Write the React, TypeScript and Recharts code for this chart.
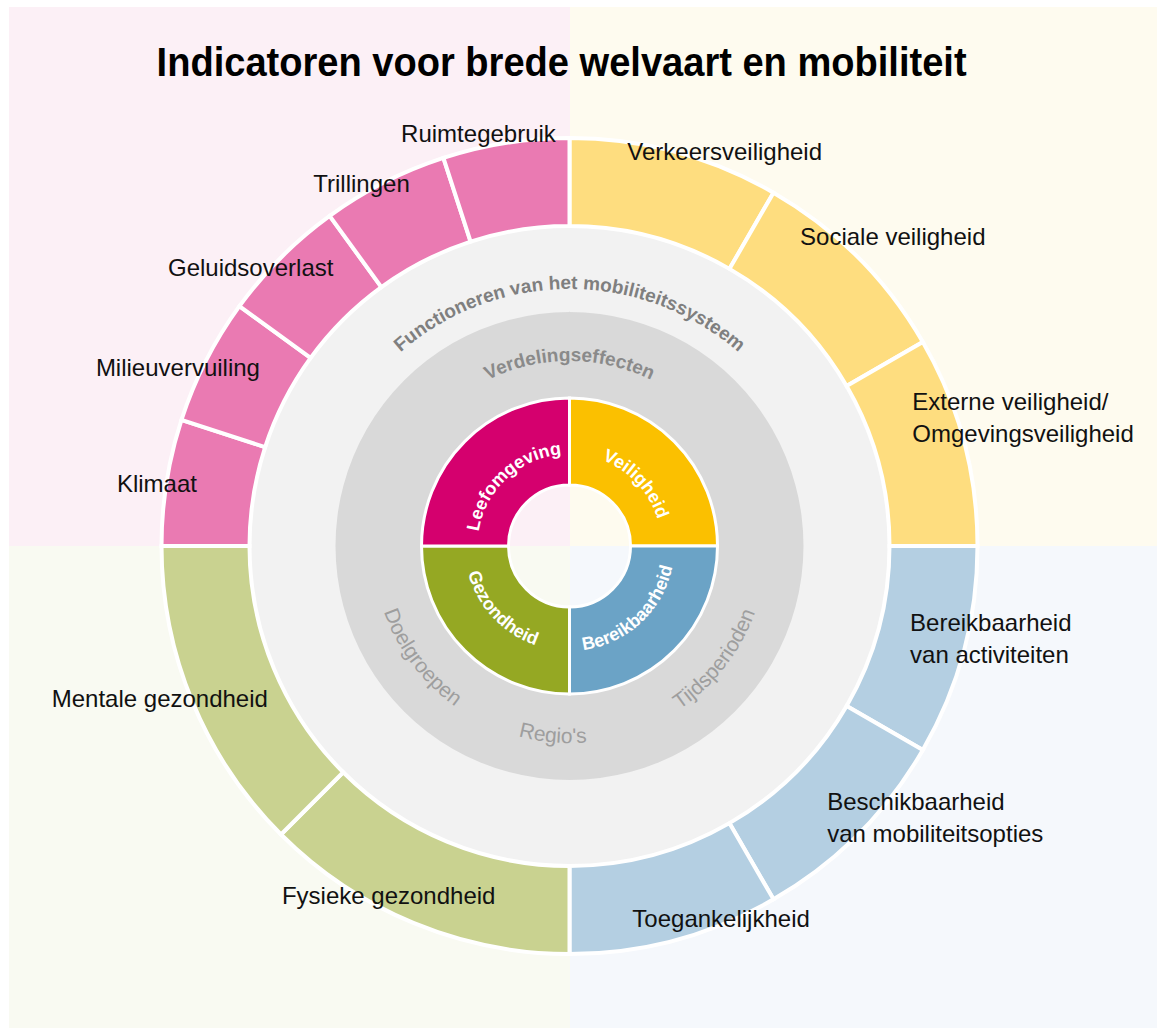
import React from "react";
import { PieChart, Pie, Cell } from "recharts";

// ---------- data ----------
const TITLE = "Indicatoren voor brede welvaart en mobiliteit";

const THEMES = ["Veiligheid", "Bereikbaarheid", "Gezondheid", "Leefomgeving"];
const THEME_VALUES = [1, 1, 1, 1];

const INDICATORS = [
  "Verkeersveiligheid",
  "Sociale veiligheid",
  "Externe veiligheid/\nOmgevingsveiligheid",
  "Bereikbaarheid\nvan activiteiten",
  "Beschikbaarheid\nvan mobiliteitsopties",
  "Toegankelijkheid",
  "Fysieke gezondheid",
  "Mentale gezondheid",
  "Klimaat",
  "Milieuvervuiling",
  "Geluidsoverlast",
  "Trillingen",
  "Ruimtegebruik",
];
const INDICATOR_SHARES = [30, 30, 30, 30, 30, 30, 45, 45, 18, 18, 18, 18, 18];
const INDICATOR_THEMES = [
  "Veiligheid", "Veiligheid", "Veiligheid",
  "Bereikbaarheid", "Bereikbaarheid", "Bereikbaarheid",
  "Gezondheid", "Gezondheid",
  "Leefomgeving", "Leefomgeving", "Leefomgeving", "Leefomgeving", "Leefomgeving",
];

const SYSTEM_RING = ["Functioneren van het mobiliteitssysteem"];
const SYSTEM_VALUES = [1];
const DISTRIBUTION_RING = ["Verdelingseffecten"];
const DISTRIBUTION_VALUES = [1];
const DISTRIBUTION_DIMENSIONS = ["Doelgroepen", "Regio's", "Tijdsperioden"];

// ---------- layout / style ----------
const W = 1157;
const H = 1029;
const CX = 569.5;
const CY = 546;
const FONT = "'Liberation Sans', Arial, sans-serif";

const THEME_COLOR: Record<string, string> = {
  Veiligheid: "#fbc000",
  Bereikbaarheid: "#6ba3c6",
  Gezondheid: "#95a823",
  Leefomgeving: "#d5006e",
};
const INDICATOR_COLOR: Record<string, string> = {
  Veiligheid: "#fedd7f",
  Bereikbaarheid: "#b4cfe2",
  Gezondheid: "#c9d290",
  Leefomgeving: "#ea7ab2",
};
const BG = { tl: "#fcf0f6", tr: "#fefbef", bl: "#f9faf2", br: "#f5f8fc" };

// polar placement of outer labels (angle in degrees, radius in px), anchor
const INDICATOR_LABEL_LAYOUT = [
  { a: 68.1, r: 416, anchor: "middle" },
  { a: 43.0, r: 442, anchor: "middle" },
  { a: 21.7, r: 369, anchor: "start" },
  { a: -14.0, r: 351, anchor: "start" },
  { a: -45.7, r: 369, anchor: "start" },
  { a: -68.3, r: 410, anchor: "middle" },
  { a: 243.2, r: 401, anchor: "middle" },
  { a: 201.4, r: 440, anchor: "middle" },
  { a: 172.6, r: 416, anchor: "middle" },
  { a: 156.5, r: 427, anchor: "middle" },
  { a: 139.7, r: 418, anchor: "middle" },
  { a: 120.4, r: 411, anchor: "middle" },
  { a: 102.7, r: 414, anchor: "middle" },
];
const DIMENSION_ANGLES = [217, 265, 322.2];

const rad = (d: number) => (d * Math.PI) / 180;

function arcPath(cx: number, cy: number, r: number, mid: number, top: boolean, span = 89) {
  const p = (a: number) => [cx + r * Math.cos(rad(a)), cy - r * Math.sin(rad(a))];
  if (top) {
    const [x1, y1] = p(mid + span);
    const [x2, y2] = p(mid - span);
    return `M${x1},${y1} A${r},${r} 0 0 1 ${x2},${y2}`;
  }
  const [x1, y1] = p(mid - span);
  const [x2, y2] = p(mid + span);
  return `M${x1},${y1} A${r},${r} 0 0 0 ${x2},${y2}`;
}

function CurvedText(props: {
  id: string; cx: number; cy: number; r: number; mid: number; top: boolean;
  text: string; size: number; weight: number | string; fill: string;
}) {
  const { id, cx, cy, r, mid, top, text, size, weight, fill } = props;
  return (
    <g>
      <defs>
        <path id={id} d={arcPath(cx, cy, r, mid, top)} fill="none" />
      </defs>
      <text fontSize={size} fontWeight={weight} fill={fill} fontFamily={FONT}>
        <textPath href={`#${id}`} startOffset="50%" textAnchor="middle">
          {text}
        </textPath>
      </text>
    </g>
  );
}

const themeData = THEMES.map((name, i) => ({ name, value: THEME_VALUES[i] }));
const indicatorData = INDICATORS.map((name, i) => ({
  name,
  value: INDICATOR_SHARES[i],
  theme: INDICATOR_THEMES[i],
}));
const systemData = SYSTEM_RING.map((name, i) => ({ name, value: SYSTEM_VALUES[i] }));
const distributionData = DISTRIBUTION_RING.map((name, i) => ({ name, value: DISTRIBUTION_VALUES[i] }));

const renderIndicatorLabel = (props: any) => {
  const cx = typeof props.cx === "number" ? props.cx : CX;
  const cy = typeof props.cy === "number" ? props.cy : CY;
  const i = props.index;
  const lay = INDICATOR_LABEL_LAYOUT[i];
  const x = cx + lay.r * Math.cos(rad(lay.a));
  const y = cy - lay.r * Math.sin(rad(lay.a));
  const lines = INDICATORS[i].split("\n");
  return (
    <text key={`ind-${i}`} x={x} y={y} textAnchor={lay.anchor} fontSize={24} fill="#111" fontFamily={FONT}>
      {lines.map((l, k) => (
        <tspan key={k} x={x} dy={k === 0 ? 0 : 32}>
          {l}
        </tspan>
      ))}
    </text>
  );
};

const renderThemeLabel = (props: any) => {
  const cx = typeof props.cx === "number" ? props.cx : CX;
  const cy = typeof props.cy === "number" ? props.cy : CY;
  const mid = props.midAngle - 2;
  const top = Math.sin(rad(mid)) > 0;
  return (
    <CurvedText
      key={`theme-${props.index}`}
      id={`theme-arc-${props.index}`}
      cx={cx}
      cy={cy}
      r={top ? 92 : 105}
      mid={mid}
      top={top}
      text={THEMES[props.index]}
      size={18}
      weight={700}
      fill="#ffffff"
    />
  );
};

const renderSystemLabel = (props: any) => {
  const cx = typeof props.cx === "number" ? props.cx : CX;
  const cy = typeof props.cy === "number" ? props.cy : CY;
  return (
    <CurvedText
      key="system"
      id="system-arc"
      cx={cx}
      cy={cy}
      r={257}
      mid={90}
      top={true}
      text={SYSTEM_RING[props.index]}
      size={19}
      weight={700}
      fill="#7f7f7f"
    />
  );
};

const renderDistributionLabel = (props: any) => {
  const cx = typeof props.cx === "number" ? props.cx : CX;
  const cy = typeof props.cy === "number" ? props.cy : CY;
  return (
    <g key="dist">
      <CurvedText
        id="dist-arc"
        cx={cx}
        cy={cy}
        r={185}
        mid={90}
        top={true}
        text={DISTRIBUTION_RING[props.index]}
        size={19}
        weight={700}
        fill="#8a8a8a"
      />
      {DISTRIBUTION_DIMENSIONS.map((t, k) => (
        <CurvedText
          key={t}
          id={`dim-arc-${k}`}
          cx={cx}
          cy={cy}
          r={197}
          mid={DIMENSION_ANGLES[k]}
          top={false}
          text={t}
          size={21}
          weight={400}
          fill="#9e9e9e"
        />
      ))}
    </g>
  );
};

export default function App() {
  return (
    <div style={{ position: "relative", width: W, height: H, overflow: "hidden" }}>
      <style>{"body{margin:0}"}</style>
      <div style={{ position: "absolute", left: 9, top: 7, width: CX - 9, height: CY - 7, background: BG.tl }} />
      <div style={{ position: "absolute", left: CX, top: 7, width: W - CX, height: CY - 7, background: BG.tr }} />
      <div style={{ position: "absolute", left: 9, top: CY, width: CX - 9, height: 1028 - CY, background: BG.bl }} />
      <div style={{ position: "absolute", left: CX, top: CY, width: W - CX, height: 1028 - CY, background: BG.br }} />
      <div style={{ position: "absolute", left: 0, top: 0 }}>
        <PieChart width={W} height={H} margin={{ top: 0, right: 0, bottom: 0, left: 0 }}>
          <Pie
            data={distributionData}
            dataKey="value"
            nameKey="name"
            cx={CX}
            cy={CY}
            innerRadius={147}
            outerRadius={235}
            startAngle={90}
            endAngle={-270}
            stroke="none"
            fill="#d9d9d9"
            isAnimationActive={false}
            labelLine={false}
            label={renderDistributionLabel}
          >
            {distributionData.map((d, i) => (
              <Cell key={i} fill="#d9d9d9" stroke="none" />
            ))}
          </Pie>
          <Pie
            data={systemData}
            dataKey="value"
            nameKey="name"
            cx={CX}
            cy={CY}
            innerRadius={234}
            outerRadius={321}
            startAngle={90}
            endAngle={-270}
            stroke="none"
            fill="#f2f2f2"
            isAnimationActive={false}
            labelLine={false}
            label={renderSystemLabel}
          >
            {systemData.map((d, i) => (
              <Cell key={i} fill="#f2f2f2" stroke="none" />
            ))}
          </Pie>
          <Pie
            data={indicatorData}
            dataKey="value"
            nameKey="name"
            cx={CX}
            cy={CY}
            innerRadius={320}
            outerRadius={408}
            startAngle={90}
            endAngle={-270}
            stroke="#ffffff"
            strokeWidth={4}
            isAnimationActive={false}
            labelLine={false}
            label={renderIndicatorLabel}
          >
            {indicatorData.map((d, i) => (
              <Cell key={i} fill={INDICATOR_COLOR[d.theme]} stroke="#ffffff" strokeWidth={4} />
            ))}
          </Pie>
          <Pie
            data={themeData}
            dataKey="value"
            nameKey="name"
            cx={CX}
            cy={CY}
            innerRadius={61}
            outerRadius={148}
            startAngle={90}
            endAngle={-270}
            stroke="#ffffff"
            strokeWidth={3}
            isAnimationActive={false}
            labelLine={false}
            label={renderThemeLabel}
          >
            {themeData.map((d, i) => (
              <Cell key={i} fill={THEME_COLOR[d.name]} stroke="#ffffff" strokeWidth={3} />
            ))}
          </Pie>
        </PieChart>
      </div>
      <svg width={W} height={110} style={{ position: "absolute", left: 0, top: 0, pointerEvents: "none" }}>
        <text
          x={561.6}
          y={76}
          textAnchor="middle"
          fontSize={41}
          fontWeight={700}
          fill="#000"
          fontFamily={FONT}
          textLength={810}
          lengthAdjust="spacingAndGlyphs"
        >
          {TITLE}
        </text>
      </svg>
    </div>
  );
}
